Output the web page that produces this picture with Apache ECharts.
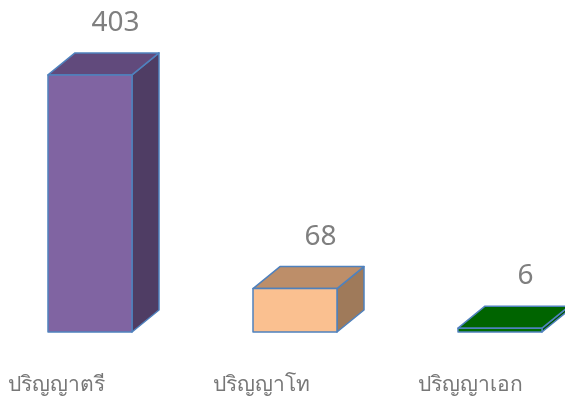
<!DOCTYPE html>
<html><head><meta charset="utf-8">
<script src="https://cdn.jsdelivr.net/npm/echarts@6/dist/echarts.min.js"></script>
<style>html,body{margin:0;padding:0;background:#fff}#c{width:565px;height:403px}</style>
</head><body><div id="c"></div>
<script>
const categories = ['ปริญญาตรี', 'ปริญญาโท', 'ปริญญาเอก'];
const values = [403, 68, 6];

const faceColors = [
  {front: '#8064A2', top: '#614A7C', side: '#4F3D64'},
  {front: '#FAC090', top: '#BD8E69', side: '#9F7A5A'},
  {front: '#006C00', top: '#006400', side: '#005200'}
];
const edge = '#4F81BD';
const FRONT_OFF = 38, FRONT_W = 84, DX = 27, DY = 22, LABEL_GAP = 30;

const chart = echarts.init(document.getElementById('c'), null, {renderer: 'canvas'});
chart.setOption({
  animation: false,
  grid: {left: 8, right: 147, top: 13, bottom: 71},
  xAxis: {
    type: 'category', data: categories, boundaryGap: false,
    axisLine: {show: false}, axisTick: {show: false},
    axisLabel: {align: 'left', margin: 43, fontSize: 21, color: '#777777',
      fontFamily: '"Noto Sans", sans-serif', verticalAlign: 'top', lineHeight: 21}
  },
  yAxis: {type: 'value', min: 0, max: 500, show: false, splitLine: {show: false}},
  series: [{
    type: 'custom',
    data: values.map((v, i) => [i, v]),
    renderItem: function (params, api) {
      const i = api.value(0);
      const top = api.coord([i, api.value(1)]);
      const base = api.coord([i, 0]);
      const x0 = top[0] + FRONT_OFF + 2, x1 = x0 + FRONT_W;
      const yT = top[1], yB = base[1];
      const c = faceColors[i];
      const ls = {stroke: edge, lineWidth: 1.5, lineJoin: 'round'};
      return {
        type: 'group',
        children: [
          {type: 'polygon', shape: {points: [[x1, yT], [x1 + DX, yT - DY], [x1 + DX, yB - DY], [x1, yB]]},
            style: Object.assign({fill: c.side}, ls)},
          {type: 'polygon', shape: {points: [[x0, yT], [x0 + DX, yT - DY], [x1 + DX, yT - DY], [x1, yT]]},
            style: Object.assign({fill: c.top}, ls)},
          {type: 'rect', shape: {x: x0, y: yT, width: FRONT_W, height: yB - yT},
            style: Object.assign({fill: c.front}, ls)},
          {type: 'text', style: {
            text: String(api.value(1)), x: (x0 + x1) / 2 + DX / 2 + 12, y: yT - DY - LABEL_GAP,
            align: 'center', verticalAlign: 'middle', fontSize: 28, fill: '#7f7f7f',
            fontFamily: '"Noto Sans", sans-serif'}}
        ]
      };
    }
  }]
});
</script></body></html>
